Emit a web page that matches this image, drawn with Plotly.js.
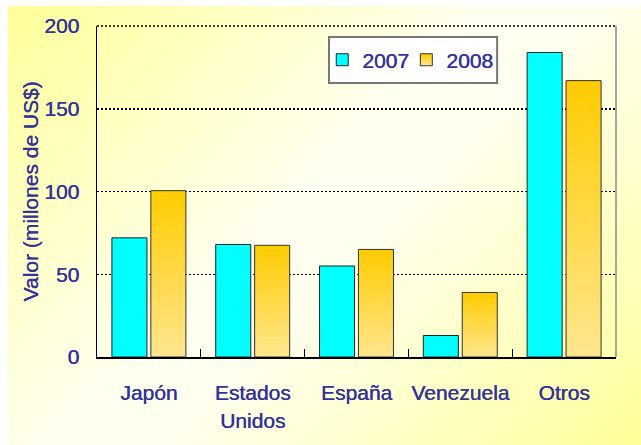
<!DOCTYPE html>
<html>
<head>
<meta charset="utf-8">
<script src="https://cdn.plot.ly/plotly-3.0.1.min.js"></script>
<style>
  html, body { margin: 0; padding: 0; background: #ffffff; }
  #wrap { position: relative; width: 641px; height: 445px; overflow: hidden; }
  #bg { position: absolute; left: 8px; top: 6px; width: 633px; height: 439px;
        background: linear-gradient(135deg, #ffff99 0%, #fffff0 45%, #fffff0 55%, #ffff99 100%); }
  #chart { position: absolute; left: 0; top: 0; width: 641px; height: 445px; }
</style>
</head>
<body>
<div id="wrap"><div id="bg"></div><div id="chart"></div></div>
<script>
const categories = ['Japón', 'Estados<br>Unidos', 'España', 'Venezuela', 'Otros'];
const values2007 = [72, 68, 55, 13, 184];
const values2008 = [100.5, 67.5, 65, 39, 167];
const yTickValues = [0, 50, 100, 150, 200];
const yTickLabels = ['0', '50', '100', '150', '200'];

const textColor = '#333399';
const fam = 'Liberation Sans, Arial, sans-serif';
const shadow = '0.4px 0 0 #333399';
const tf = {family: fam, size: 21, color: textColor, shadow: shadow};

const traces = [
  {type: 'bar', name: '2007', x: categories, y: values2007, legend: 'legend',
   marker: {color: '#00ffff', line: {color: '#222222', width: 1}}},
  {type: 'bar', name: '2008', x: categories, y: values2008, legend: 'legend2',
   marker: {color: '#ffd54a', line: {color: '#333333', width: 1}}}
];

const legendBase = {orientation: 'h', yanchor: 'middle', xanchor: 'left', y: 0.897,
                    bgcolor: 'rgba(0,0,0,0)', borderwidth: 0, font: tf};

const layout = {
  width: 641, height: 445,
  margin: {l: 97, r: 25, t: 26, b: 88},
  paper_bgcolor: 'rgba(0,0,0,0)',
  plot_bgcolor: 'rgba(0,0,0,0)',
  font: tf,
  barmode: 'group',
  bargap: 0.25,
  bargroupgap: 0.1,
  showlegend: true,
  legend: Object.assign({}, legendBase, {x: 0.434}),
  legend2: Object.assign({}, legendBase, {x: 0.596}),
  xaxis: {showline: true, linecolor: '#000000', linewidth: 2,
          ticks: 'inside', tickson: 'boundaries', ticklen: 8, tickcolor: '#000000', tickwidth: 1,
          tickangle: 0, ticklabelstandoff: 16,
          tickfont: tf},
  yaxis: {range: [0, 200], tickvals: yTickValues, ticktext: yTickLabels,
          showline: true, linecolor: '#000000', linewidth: 1.5,
          showgrid: true, gridcolor: '#000000', gridwidth: 1.5, griddash: '2px,2px',
          zeroline: false, ticks: '', ticklabelstandoff: 12,
          tickfont: tf,
          title: {text: 'Valor (millones de US$)', standoff: 0, font: tf}},
  shapes: [
    {type: 'rect', xref: 'paper', yref: 'paper', x0: 0.447, x1: 0.771, y0: 0.828, y1: 0.967,
     layer: 'below', fillcolor: '#ffffff', line: {color: '#777777', width: 2}},
    {type: 'line', xref: 'paper', yref: 'paper', x0: 1, x1: 1, y0: 0, y1: 1,
     line: {color: '#888888', width: 1.5}},
    {type: 'line', xref: 'paper', yref: 'paper', x0: 0, x1: 1, y0: 1, y1: 1,
     line: {color: '#000000', width: 1.5, dash: '2px,2px'}}
  ]
};

Plotly.newPlot('chart', traces, layout, {displayModeBar: false, staticPlot: true}).then(function (gd) {
  const svg = gd.querySelector('svg.main-svg');
  const ns = 'http://www.w3.org/2000/svg';
  let defs = svg.querySelector('defs');
  if (!defs) { defs = document.createElementNS(ns, 'defs'); svg.insertBefore(defs, svg.firstChild); }
  const g = document.createElementNS(ns, 'linearGradient');
  g.setAttribute('id', 'grad2008'); g.setAttribute('x1', '0'); g.setAttribute('y1', '0');
  g.setAttribute('x2', '0'); g.setAttribute('y2', '1');
  [['0', '#ffcc00'], ['1', '#ffe68f']].forEach(function (s) {
    const st = document.createElementNS(ns, 'stop');
    st.setAttribute('offset', s[0]); st.setAttribute('stop-color', s[1]);
    g.appendChild(st);
  });
  defs.appendChild(g);
  const barTraces = gd.querySelectorAll('.barlayer .trace.bars');
  if (barTraces[1]) barTraces[1].querySelectorAll('path').forEach(function (p) { p.style.fill = 'url(#grad2008)'; });
  const lg2 = gd.querySelector('.legend2');
  if (lg2) lg2.querySelectorAll('.legendpoints path').forEach(function (p) { p.style.fill = 'url(#grad2008)'; });
});
</script>
</body>
</html>
